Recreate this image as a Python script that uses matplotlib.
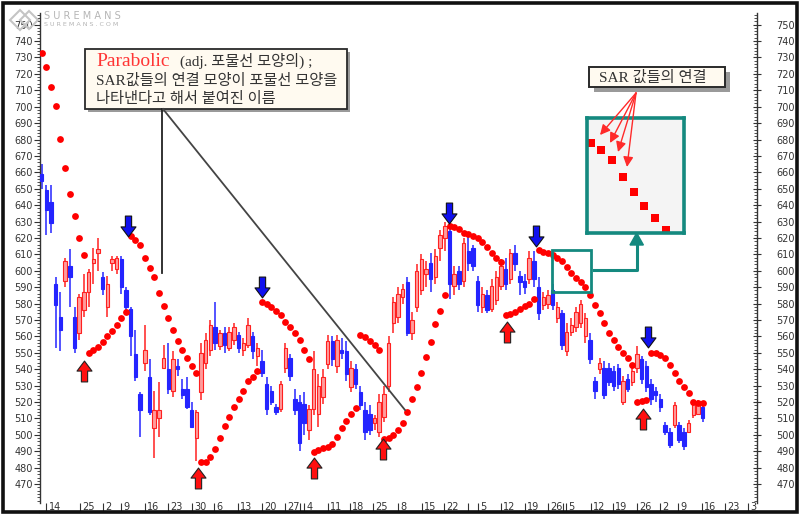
import matplotlib
matplotlib.use("Agg")
import matplotlib.pyplot as plt
from matplotlib.patches import Rectangle, Polygon
from matplotlib.path import Path
from matplotlib.lines import Line2D

W, H = 800, 514

# daily bars (index 0 = first bar on the left)
opens = [659, 649, 642, 592, 572, 594, 603, 572, 562, 576,
         587, 605, 611, 596, 578, 605, 601, 607, 588, 577,
         549, 525, 544, 535, 504, 510, 541, 540, 527, 542,
         528, 528, 515, 498, 526, 544, 552, 566, 554, 562,
         553, 558, 561, 552, 555, 560, 548, 545, 531, 527,
         517, 516, 541, 547, 522, 520, 519, 503, 516, 513,
         523, 543, 557, 542, 552, 551, 529, 540, 526, 515,
         513, 507, 502, 511, 530, 568, 572, 584, 593, 562,
         578, 588, 598, 605, 596, 614, 620, 624, 591, 600,
         594, 612, 614, 594, 578, 585, 577, 582, 591, 601,
         595, 611, 597, 594, 595, 606, 590, 579, 580, 588,
         571, 574, 551, 563, 566, 568, 560, 558, 533, 540,
         541, 541, 539, 541, 520, 534, 532, 541, 546, 542,
         531, 527, 522, 506, 502, 506, 506, 502, 502, 512,
         513, 517]
highs = [665, 652, 652, 596, 587, 608, 613, 578, 586, 598,
         601, 614, 620, 599, 597, 609, 609, 609, 590, 578,
         564, 526, 567, 546, 527, 532, 555, 556, 551, 546,
         534, 535, 520, 515, 556, 562, 570, 581, 564, 566,
         566, 568, 563, 559, 571, 563, 556, 552, 535, 530,
         519, 533, 556, 549, 528, 524, 526, 518, 551, 537,
         540, 561, 560, 561, 559, 557, 545, 543, 530, 520,
         518, 512, 525, 530, 560, 584, 590, 592, 596, 575,
         604, 610, 606, 611, 613, 625, 630, 627, 603, 603,
         620, 622, 616, 597, 590, 588, 595, 600, 607, 608,
         613, 616, 600, 598, 612, 612, 596, 587, 588, 592,
         581, 576, 568, 571, 578, 582, 574, 562, 535, 547,
         545, 544, 542, 543, 536, 537, 542, 554, 548, 545,
         534, 529, 525, 508, 504, 520, 508, 504, 509, 521,
         521, 520]
lows = [650, 622, 623, 553, 551, 590, 578, 550, 558, 572,
        578, 592, 600, 585, 572, 600, 598, 586, 576, 548,
        533, 499, 539, 512, 486, 499, 540, 525, 523, 536,
        522, 516, 504, 484, 521, 540, 548, 552, 552, 550,
        551, 555, 550, 548, 553, 546, 542, 535, 512, 518,
        512, 514, 538, 533, 512, 490, 500, 497, 512, 505,
        519, 540, 542, 538, 546, 533, 526, 528, 515, 497,
        500, 503, 499, 508, 526, 562, 568, 580, 560, 558,
        575, 585, 590, 587, 592, 606, 612, 583, 585, 588,
        590, 600, 600, 575, 574, 574, 575, 579, 588, 588,
        592, 600, 585, 586, 592, 590, 570, 576, 577, 576,
        568, 552, 548, 560, 563, 565, 556, 543, 522, 537,
        522, 530, 527, 528, 518, 526, 530, 538, 531, 526,
        518, 520, 514, 500, 492, 504, 495, 491, 501, 510,
        512, 508]
closes = [655, 637, 629, 579, 564, 606, 596, 553, 584, 587,
          599, 607, 613, 589, 592, 607, 608, 590, 578, 560,
          535, 515, 552, 514, 515, 515, 547, 528, 546, 540,
          524, 517, 505, 514, 550, 558, 567, 556, 562, 555,
          563, 566, 553, 556, 567, 551, 553, 538, 516, 520,
          514, 531, 553, 536, 515, 495, 507, 516, 540, 530,
          535, 557, 546, 558, 550, 537, 541, 531, 518, 502,
          503, 510, 520, 525, 556, 581, 586, 589, 562, 570,
          600, 607, 601, 595, 609, 622, 627, 592, 598, 592,
          617, 605, 603, 579, 586, 576, 591, 596, 603, 592,
          611, 604, 593, 590, 608, 595, 574, 584, 585, 579,
          578, 555, 563, 567, 575, 580, 571, 546, 527, 544,
          524, 532, 530, 531, 533, 528, 539, 549, 534, 529,
          522, 524, 517, 502, 494, 518, 497, 493, 507, 519,
          518, 510]

# Parabolic SAR value for each bar
sar = [732.7, 724.2, 711.7, 700.6, 680.2, 662.4, 646.8, 633.5, 620.0, 609.5,
       550.0, 551.5, 553.5, 556.5, 560.0, 563.5, 567.0, 571.0, 575.0,
       621.0, 619.0, 615.7, 608.0, 601.7, 596.0, 586.6, 578.7, 571.0, 564.0,
       557.4, 551.7, 547.0, 542.0, 537.7,
       483.6, 483.6, 486.7, 491.4, 498.3, 505.4, 511.1, 517.2, 521.8, 526.7,
       533.0, 535.4, 539.0,
       581.0, 580.0, 578.0, 575.5, 573.0, 569.0, 566.0, 562.0, 558.0, 552.0, 546.0,
       489.7, 490.8, 491.8, 492.8, 494.4, 498.5, 504.0, 508.6, 512.7, 516.2,
       561.0, 559.5, 557.5, 555.0, 552.0,
       497.3, 497.9, 500.0, 503.0, 507.4, 514.2, 521.7, 528.9, 537.5, 547.6,
       556.8, 567.5, 575.7, 585.2,
       627.3, 626.9, 625.3, 623.2, 622.4, 621.4, 620.2, 617.7, 614.7, 611.0,
       608.0, 605.5,
       573.0, 573.6, 575.0, 577.0, 578.5, 580.0, 583.0,
       612.6, 611.6, 610.6, 609.6, 608.0, 605.8, 602.1, 598.8, 595.7, 592.9,
       590.3, 585.2, 579.0, 574.0, 568.0, 562.0, 557.8, 553.7, 550.0, 546.6, 542.6,
       520.0, 520.5, 521.0,
       550.0, 549.7, 548.6, 546.7, 542.6, 537.5, 533.0, 529.0, 525.3, 520.2,
       519.5, 519.5]

# date ticks (bar index) and their labels
tick_pos = [1, 8.2, 13.1, 16.9, 22, 26.9, 32.1, 36.8, 41.9, 47, 51.9, 55.1, 56,
            61.1, 65.8, 70.7, 76, 81.1, 85.8, 90.9, 93.1, 98, 103.1, 108, 111.2,
            111.9, 117.2, 121.9, 127, 131.9, 135.7, 140.8, 145.8, 150.7]
tick_labels = ["14", "25", "2", "9", "16", "23", "30", "6", "13", "20", "27", "", "4",
               "11", "18", "25", "8", "15", "22", "", "5", "12", "19", "26", "",
               "5", "12", "19", "26", "2", "9", "16", "23", "3"]

# buy / sell signal arrows (bar index, price at arrow centre)
buy_idx = [9.0, 33.3, 58.1, 72.8, 99.2, 128.3]
buy_val = [539, 474, 480, 491.5, 562.5, 509.5]
sell_idx = [18.4, 47.0, 86.9, 105.4, 129.3]
sell_val = [627, 590, 635.5, 621, 559.5]

zoom_first, zoom_last = 109, 116   # SAR bars repeated in the magnified box

RED = "#ff2020"
PINK = "#ff9c9c"
BLUE = "#2424ff"
TEAL = "#14897f"
INK = "#333333"

plt.rcParams["font.family"] = ["Liberation Sans Narrow", "DejaVu Sans"]
KR = ["Liberation Serif", "Noto Sans CJK KR"]


def fx(x):
    return x / W


def fy(y):
    return 1 - y / H


def fbox(x0, y0, x1, y1, **kw):
    return Rectangle((fx(x0), fy(y1)), (x1 - x0) / W, (y1 - y0) / H,
                     transform=fig.transFigure, **kw)


fig = plt.figure(figsize=(W / 100, H / 100), dpi=100)
ax = fig.add_axes([fx(40), fy(512), 717 / W, 499 / H])
ax.set_xlim(-0.36, 152.6)
ax.set_ylim(453.0, 757.1)

n = len(opens)
idx = list(range(n))
rising = [c >= o for o, c in zip(opens, closes)]
edge = [RED if r else BLUE for r in rising]
face = [PINK if r else BLUE for r in rising]
ax.vlines(idx, lows, highs, colors=edge, lw=1.1, zorder=2)
ax.bar(idx, [max(abs(c - o), 0.8) for o, c in zip(opens, closes)],
       bottom=[min(o, c) for o, c in zip(opens, closes)], width=0.74,
       color=face, edgecolor=edge, linewidth=0.8, zorder=3)
ax.scatter(idx, sar, s=24, color="#ff0000", linewidths=0, zorder=4)

up_shape = Path([(0, 0.5), (0.36, 0.02), (0.15, 0.02), (0.15, -0.5),
                 (-0.15, -0.5), (-0.15, 0.02), (-0.36, 0.02), (0, 0.5)], closed=True)
down_shape = Path([(x, -y) for x, y in up_shape.vertices], closed=True)
ax.scatter(buy_idx, buy_val, marker=up_shape, s=225, color="#ff1010",
           edgecolors="#222222", linewidths=0.8, zorder=6)
ax.scatter(sell_idx, sell_val, marker=down_shape, s=225, color="#1010ee",
           edgecolors="#111111", linewidths=0.8, zorder=6)

# small teal frame around the magnified SAR run
ax.add_patch(Rectangle((zoom_first - 0.2, 587.2), zoom_last - zoom_first + 1.3, 25.4,
                       fill=False, edgecolor=TEAL, lw=2.0, zorder=7))

# axes styling
ax.spines["top"].set_visible(False)
for side in ["left", "right"]:
    ax.spines[side].set_bounds(458.5, 757.1)
    ax.spines[side].set_color(INK)
    ax.spines[side].set_linewidth(1.0)
ax.spines["bottom"].set_color("#111111")
ax.spines["bottom"].set_linewidth(1.6)

ax.set_yticks(range(470, 751, 10))
ax.set_yticks(range(460, 757, 2), minor=True)
ax.tick_params(axis="y", which="major", direction="out", length=4.5, width=0.8,
               pad=0.8, labelsize=7, colors=INK)
ax.tick_params(axis="y", which="minor", direction="out", length=2, width=0.6, colors=INK)

axr = ax.twinx()
axr.set_ylim(ax.get_ylim())
for s in axr.spines.values():
    s.set_visible(False)
axr.set_yticks(range(470, 751, 10))
axr.set_yticks(range(460, 757, 2), minor=True)
axr.tick_params(axis="y", which="major", direction="inout", length=6, width=0.8,
                pad=11, labelsize=7, colors=INK)
axr.tick_params(axis="y", which="minor", direction="in", length=2.5, width=0.6, colors=INK)

ax.set_xticks(tick_pos)
ax.set_xticklabels([])
ax.tick_params(axis="x", direction="in", length=6.5, width=0.8, colors=INK)
for p, lab in zip(tick_pos, tick_labels):
    ax.annotate(lab, xy=(p, 0), xycoords=("data", "axes fraction"), xytext=(1.6, 3.6),
                textcoords="offset points", ha="left", va="center", fontsize=7, color=INK)

# magnified view of the SAR run
axi = fig.add_axes([fx(586.7), fy(233.3), 97.3 / W, 115 / H])
axi.set_facecolor("#f4f4f4")
axi.set_xticks([])
axi.set_yticks([])
for s in axi.spines.values():
    s.set_color(TEAL)
    s.set_linewidth(2.6)
axi.scatter(range(zoom_first, zoom_last + 1), sar[zoom_first:zoom_last + 1],
            marker="s", s=32, color="#ff0000", linewidths=0)
axi.set_xlim(108.63, 117.67)
axi.set_ylim(589.6, 615.0)

# red pointers from the label into the magnified view (drawn on top of it)
for tx, ty in [(600, 135), (610, 143), (618, 152), (627, 167)]:
    axi.annotate("", xy=(tx, H - ty), xycoords="figure pixels",
                 xytext=(636, H - 93), textcoords="figure pixels",
                 arrowprops=dict(arrowstyle="-|>,head_length=0.6,head_width=0.3",
                                 color="#ff2a2a", lw=1.0, shrinkA=0, shrinkB=0))

# connector from the small frame to the magnified view
fig.add_artist(Line2D([fx(594), fx(636.7), fx(636.7)], [fy(270), fy(270), fy(244)],
                      transform=fig.transFigure, color=TEAL, lw=2.2))
fig.add_artist(Polygon([(fx(630), fy(245)), (fx(643.4), fy(245)), (fx(636.7), fy(233))],
                       closed=True, transform=fig.transFigure, color=TEAL))

# explanation box
fig.add_artist(fbox(88, 52, 350, 112, facecolor="#9a9a9a", edgecolor="none"))
fig.add_artist(fbox(85, 49, 347, 109, facecolor="#fffaf0", edgecolor="#2a2a2a", lw=1.3))
fig.text(fx(96), fy(61), "Parabolic", color="#ff3535", fontsize=14,
         family="Liberation Serif", va="center", ha="left")
fig.text(fx(180), fy(61), "(adj. 포물선 모양의) ;", color=INK, fontsize=11,
         family=KR, va="center", ha="left")
fig.text(fx(96), fy(80.5), "SAR값들의 연결 모양이 포물선 모양을", color=INK, fontsize=11,
         family=KR, va="center", ha="left")
fig.text(fx(96), fy(99), "나타낸다고 해서 붙여진 이름", color=INK, fontsize=11,
         family=KR, va="center", ha="left")
fig.add_artist(Line2D([fx(161.5), fx(161.5)], [fy(109), fy(273)],
                      transform=fig.transFigure, color="#222222", lw=1.3))
fig.add_artist(Line2D([fx(163), fx(405)], [fy(109), fy(410)],
                      transform=fig.transFigure, color="#444444", lw=1.3))

# "SAR 값들의 연결" label
fig.add_artist(fbox(594, 72, 730, 92, facecolor="#9a9a9a", edgecolor="none"))
fig.add_artist(fbox(589, 67, 725, 87, facecolor="#fffaf0", edgecolor="#2a2a2a", lw=1.4))
fig.text(fx(653), fy(77.5), "SAR 값들의 연결", color=INK, fontsize=11, family=KR,
         va="center", ha="center")

# watermark
fig.add_artist(Polygon([(fx(10), fy(20)), (fx(20), fy(10)), (fx(30), fy(20)), (fx(20), fy(30))],
                       closed=True, transform=fig.transFigure, fill=False,
                       edgecolor="#c4c4c4", lw=1.5))
fig.add_artist(Polygon([(fx(20), fy(20)), (fx(29), fy(11)), (fx(38), fy(20)), (fx(29), fy(29))],
                       closed=True, transform=fig.transFigure, fill=False,
                       edgecolor="#c4c4c4", lw=1.5))
fig.text(fx(44), fy(16), "S U R E M A N S", color="#b5b5b5", fontsize=7,
         family="DejaVu Sans", va="center", ha="left")
fig.text(fx(44), fy(25), "S U R E M A N S . C O M", color="#b5b5b5", fontsize=4.6,
         family="DejaVu Sans", va="center", ha="left")

# outer frame
fig.add_artist(fbox(3, 3, 797, 512, fill=False, edgecolor="#111111", lw=2.6))

fig.savefig("out.png", dpi=100)
